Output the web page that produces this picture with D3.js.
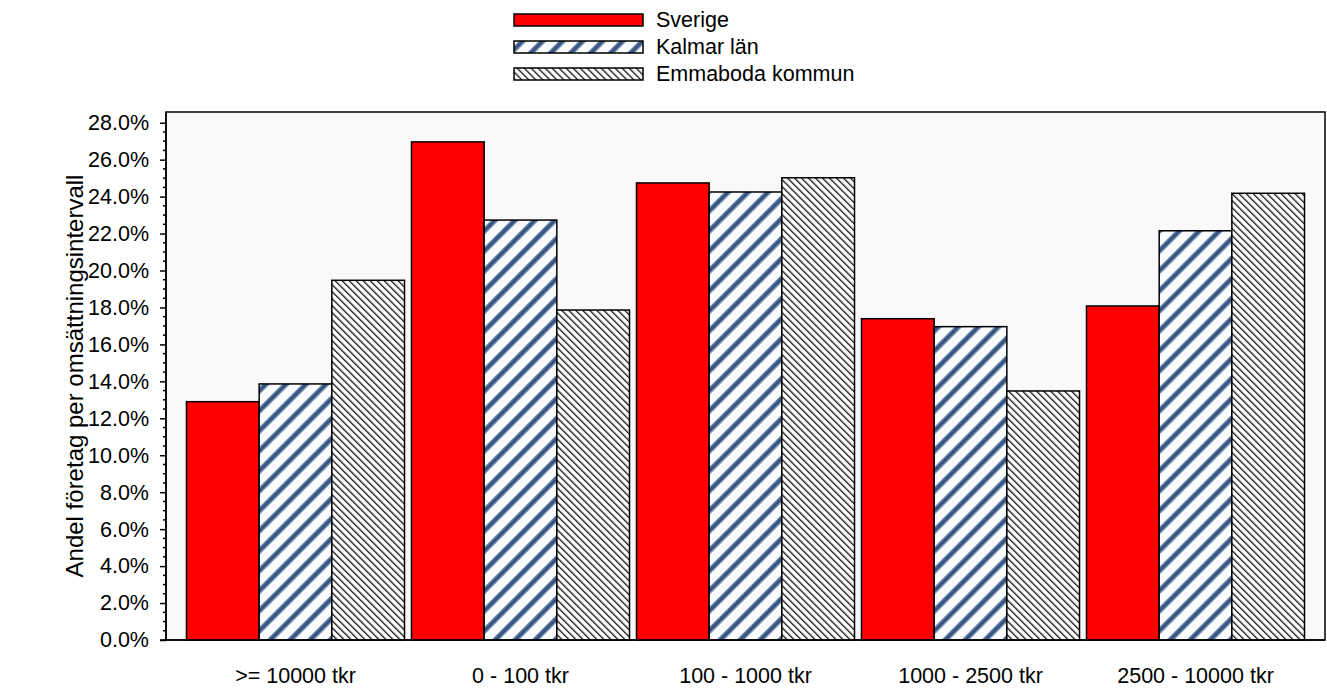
<!DOCTYPE html>
<html>
<head>
<meta charset="utf-8">
<script src="https://cdn.jsdelivr.net/npm/d3@7"></script>
<style>
  html, body { margin: 0; padding: 0; background: #fff; }
  svg text { font-family: "Liberation Sans", Arial, sans-serif; fill: #000; }
</style>
</head>
<body>
<svg id="chart" width="1327" height="693"></svg>
<script>
const categories = [">= 10000 tkr", "0 - 100 tkr", "100 - 1000 tkr", "1000 - 2500 tkr", "2500 - 10000 tkr"];
const seriesNames = ["Sverige", "Kalmar län", "Emmaboda kommun"];
const sverige   = [12.9, 26.96, 24.74, 17.39, 18.08];
const kalmar    = [13.86, 22.73, 24.25, 16.96, 22.15];
const emmaboda  = [19.47, 17.86, 25.02, 13.48, 24.18];
const yTicks = [0, 2, 4, 6, 8, 10, 12, 14, 16, 18, 20, 22, 24, 26, 28];
const yAxisTitle = "Andel företag per omsättningsintervall";

(function () {
const seriesValues = [sverige, kalmar, emmaboda];
const svg = d3.select("#chart");
const defs = svg.append("defs");
const FS = 21.5;

// Kalmar pattern: blue diagonal "/" stripes
const p1 = defs.append("pattern").attr("id", "kalmar").attr("patternUnits", "userSpaceOnUse")
  .attr("width", 14.14).attr("height", 14.14).attr("patternTransform", "rotate(45)");
p1.append("rect").attr("width", 14.14).attr("height", 14.14).attr("fill", "#fafbfd");
p1.append("rect").attr("x", 0).attr("y", 0).attr("width", 5.4).attr("height", 14.14).attr("fill", "#6482aa");
p1.append("rect").attr("x", 1.4).attr("y", 0).attr("width", 2.6).attr("height", 14.14).attr("fill", "#34507a");

// Emmaboda pattern: thin black "\" lines
const p2 = defs.append("pattern").attr("id", "emmaboda").attr("patternUnits", "userSpaceOnUse")
  .attr("width", 4.95).attr("height", 4.95).attr("patternTransform", "rotate(-45)");
p2.append("rect").attr("width", 4.95).attr("height", 4.95).attr("fill", "#ffffff");
p2.append("rect").attr("x", 0).attr("y", 0).attr("width", 1.3).attr("height", 4.95).attr("fill", "#111");

const fills = ["#ff0000", "url(#kalmar)", "url(#emmaboda)"];

const pLeft = 166, pRight = 1325, pTop = 112, pBottom = 640;
const yMax = 28 * (pBottom - pTop) / (640 - 122.7);

const x0 = d3.scaleBand().domain(categories).range([pLeft, pRight]).paddingInner(0.031).paddingOuter(0.091);
const x1 = d3.scaleBand().domain(seriesNames).range([0, x0.bandwidth()]).padding(0);
const y = d3.scaleLinear().domain([0, yMax]).range([pBottom, pTop]);

// plot background
svg.append("rect").attr("x", pLeft).attr("y", pTop).attr("width", pRight - pLeft).attr("height", pBottom - pTop)
  .attr("fill", "#f9f9f9").attr("stroke", "#000").attr("stroke-width", 1.5);

// bars
const groups = svg.append("g").selectAll("g").data(categories).join("g")
  .attr("transform", d => `translate(${x0(d)},0)`);
groups.selectAll("rect").data((d, i) => seriesNames.map((s, j) => ({ s, j, v: seriesValues[j][i] })))
  .join("rect")
  .attr("x", d => x1(d.s))
  .attr("y", d => y(d.v))
  .attr("width", x1.bandwidth())
  .attr("height", d => y(0) - y(d.v))
  .attr("fill", d => fills[d.j])
  .attr("stroke", "#000").attr("stroke-width", 1.5);

// y axis
const yAxis = d3.axisLeft(y).tickValues(yTicks).tickSize(6).tickPadding(11)
  .tickFormat(d => d3.format(".1f")(d) + "%");
const ga = svg.append("g").attr("transform", `translate(${pLeft},0)`).call(yAxis);
ga.select(".domain").attr("stroke", "#000").attr("stroke-width", 1.5).attr("d", `M0,${pTop}V${pBottom}`);
ga.selectAll("text").attr("font-size", FS).attr("font-family", "Liberation Sans, Arial, sans-serif");
ga.selectAll(".tick line").attr("stroke", "#000").attr("stroke-width", 1.5);
// minor ticks
const minor = d3.range(0, 28.01, 0.5).filter(v => !yTicks.includes(v));
svg.append("g").selectAll("line").data(minor).join("line")
  .attr("x1", pLeft - 3).attr("x2", pLeft).attr("y1", d => y(d)).attr("y2", d => y(d))
  .attr("stroke", "#000").attr("stroke-width", 1.5);

// bottom axis line
svg.append("line").attr("x1", pLeft - 6).attr("x2", pRight).attr("y1", pBottom).attr("y2", pBottom)
  .attr("stroke", "#000").attr("stroke-width", 1.5);

// x labels
const xAxis = d3.axisBottom(x0).tickSize(0).tickPadding(28);
const gx = svg.append("g").attr("transform", `translate(0,${pBottom})`).call(xAxis);
gx.select(".domain").remove();
gx.selectAll("text").attr("font-size", FS).attr("font-family", "Liberation Sans, Arial, sans-serif");

// y title
svg.append("text").attr("transform", `translate(83,${(pTop + pBottom) / 2}) rotate(-90)`)
  .attr("text-anchor", "middle").attr("font-size", 24).text(yAxisTitle);

// legend
const leg = svg.append("g");
seriesNames.forEach((s, i) => {
  const yy = 14 + i * 27;
  leg.append("rect").attr("x", 514).attr("y", yy).attr("width", 129).attr("height", 12)
    .attr("fill", fills[i]).attr("stroke", "#000").attr("stroke-width", 1.5);
  leg.append("text").attr("x", 656).attr("y", yy + 13).attr("font-size", FS).text(s);
});
})();
</script>
</body>
</html>
